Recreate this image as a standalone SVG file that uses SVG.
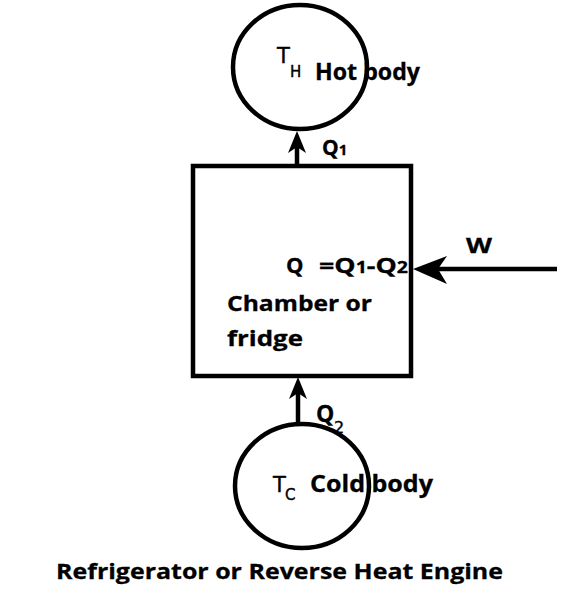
<svg xmlns="http://www.w3.org/2000/svg" width="570" height="597" viewBox="0 0 570 597">
<style>
.s{fill:none;stroke:#000;stroke-width:4.5}
.t{font-family:"Open Sans","Noto Sans",sans-serif;font-weight:bold;fill:#000;stroke:#000;stroke-width:0.3}
.n{font-family:"DejaVu Sans","Noto Sans",sans-serif;font-weight:normal;fill:#000;stroke:#000;stroke-width:0.4}
.h{fill:#000}
</style>
<rect width="570" height="597" fill="#fff"/>
<g id="hot">
<ellipse class="s" cx="300" cy="67" rx="67" ry="62"/>
<text class="n" x="277" y="63" font-size="21">T</text>
<text class="n" x="290" y="77" font-size="15">H</text>
<text class="t" x="315" y="80" font-size="23" textLength="105" lengthAdjust="spacingAndGlyphs">Hot body</text>
</g>
<g id="chamber">
<rect class="s" x="193" y="166" width="218" height="210" stroke-width="5"/>
<text class="t" x="286" y="273" font-size="22">Q</text>
<text class="t" x="319" y="273" font-size="22" textLength="89" lengthAdjust="spacingAndGlyphs">=Q<tspan font-size="16">1</tspan>-Q<tspan font-size="16">2</tspan></text>
<text class="t" x="227" y="311" font-size="22" textLength="145" lengthAdjust="spacingAndGlyphs">Chamber or</text>
<text class="t" x="227" y="346" font-size="22" textLength="76" lengthAdjust="spacingAndGlyphs">fridge</text>
</g>
<g id="cold">
<ellipse class="s" cx="302" cy="486" rx="67" ry="62"/>
<text class="n" x="273" y="492" font-size="21">T</text>
<text class="n" x="285" y="500" font-size="15">C</text>
<text class="t" x="310" y="492" font-size="23" textLength="123" lengthAdjust="spacingAndGlyphs">Cold body</text>
</g>
<g id="connectors">
<line class="s" x1="297" y1="166" x2="297" y2="142" stroke-width="5"/>
<polygon class="h" points="297,131 288,153 297,147 306,153"/>
<text class="t" x="322" y="155" font-size="21">Q<tspan font-size="15">1</tspan></text>
<line class="s" x1="298" y1="424" x2="298" y2="389" stroke-width="5"/>
<polygon class="h" points="298,377 289,399 298,393 307,399"/>
<text class="t" x="316" y="422" font-size="23">Q</text>
<text class="n" x="334" y="433" font-size="16">2</text>
<line class="s" x1="557" y1="269" x2="425" y2="269" stroke-width="5"/>
<polygon class="h" points="413,269 447,256 438,269 447,284"/>
<text class="t" x="466" y="253" font-size="22" textLength="26" lengthAdjust="spacingAndGlyphs">W</text>
</g>
<text class="t" x="56" y="579" font-size="22" textLength="447" lengthAdjust="spacingAndGlyphs">Refrigerator or Reverse Heat Engine</text>
</svg>
